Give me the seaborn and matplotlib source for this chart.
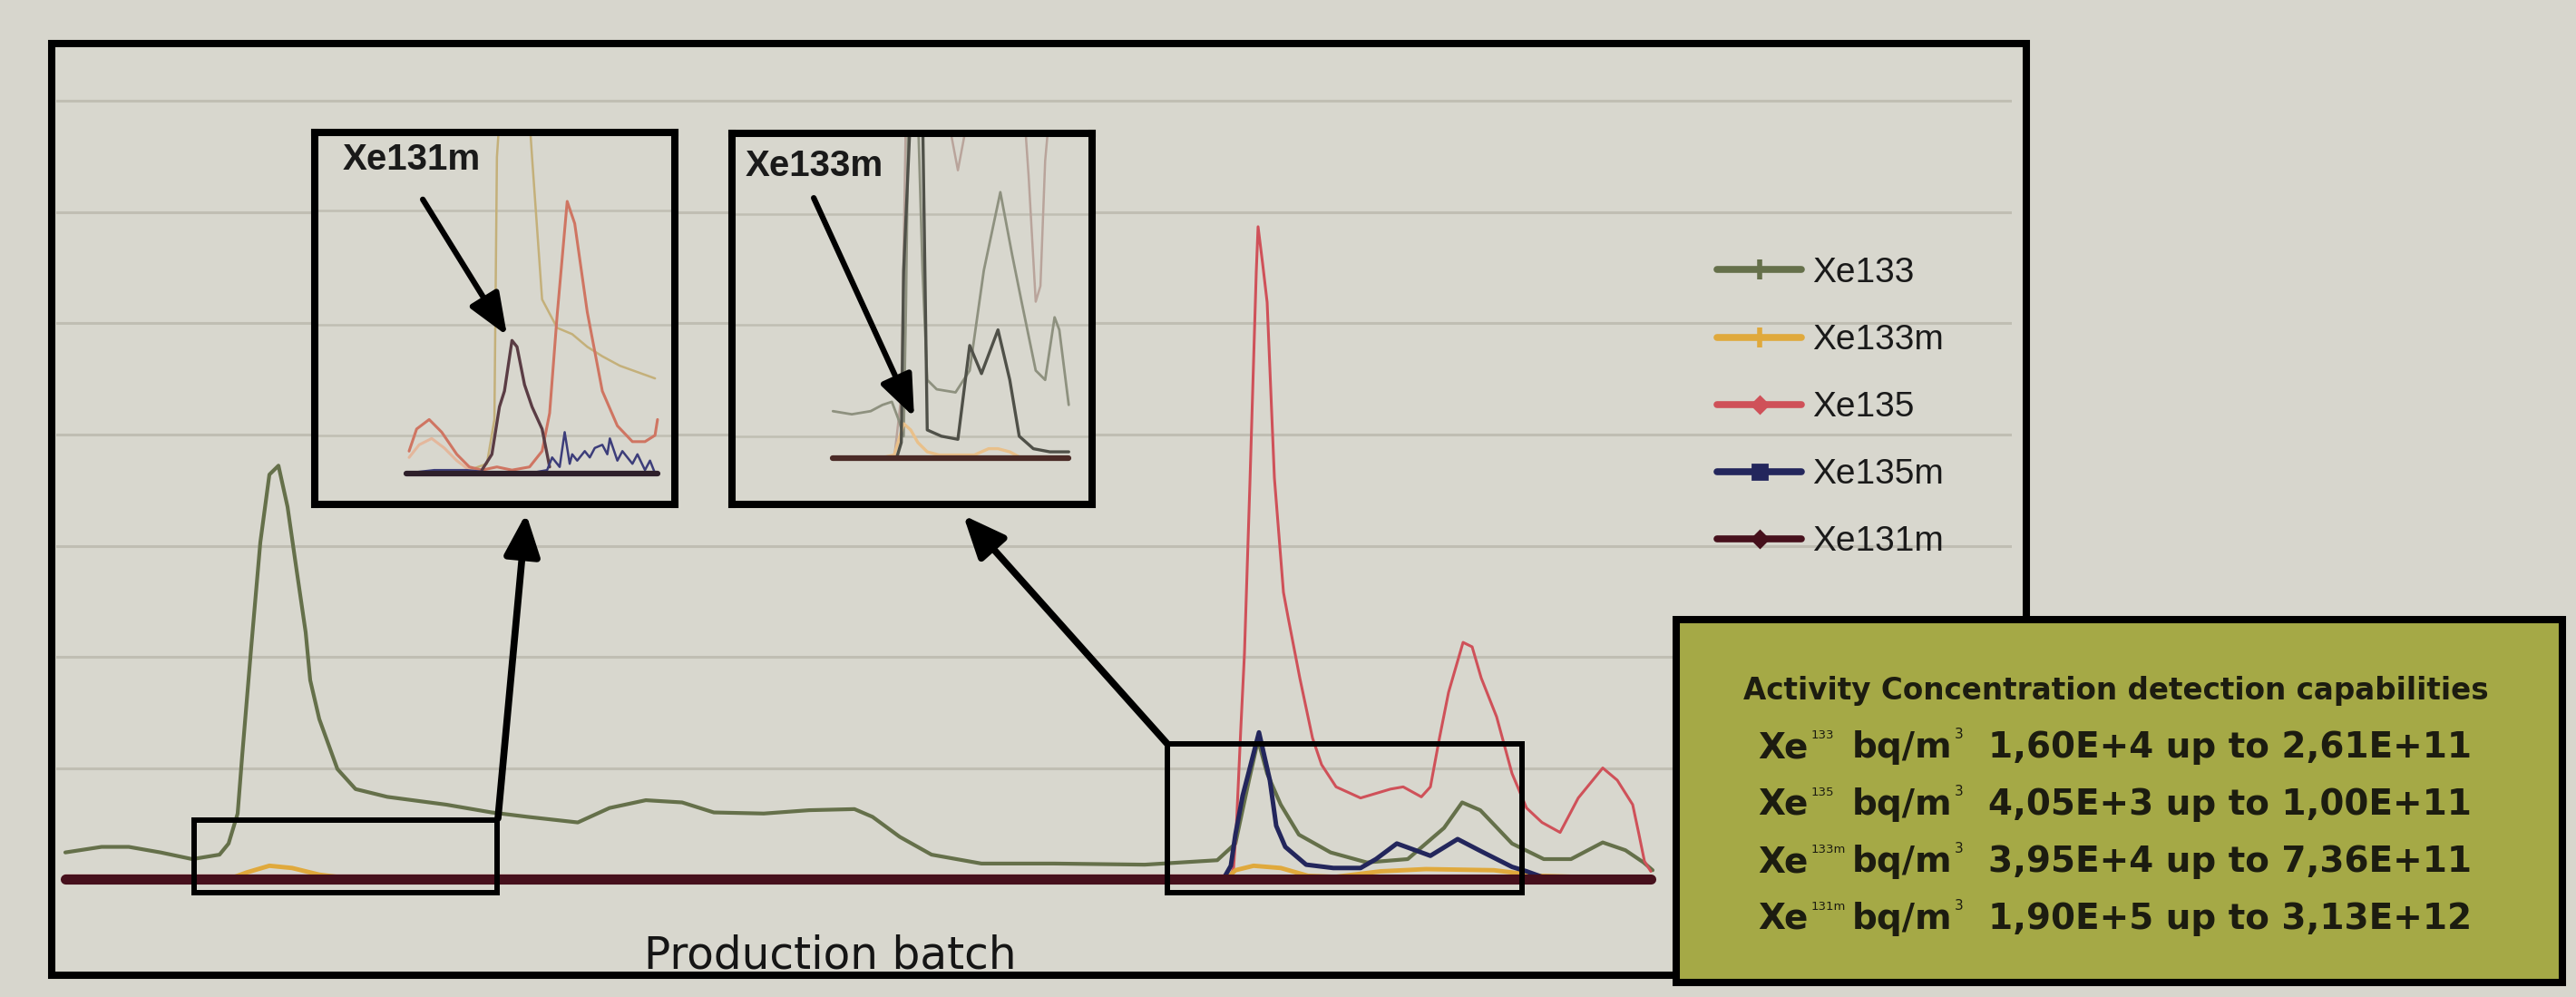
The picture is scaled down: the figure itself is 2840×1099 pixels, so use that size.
import matplotlib
matplotlib.use("Agg")
import matplotlib.pyplot as plt
from matplotlib.patches import Rectangle, FancyArrowPatch
from matplotlib.lines import Line2D
import seaborn as sns

# main chart: production batch position vs. activity (in gridline units)
xe133_batch = [0, 8, 14, 21, 28, 34, 36, 38, 39, 41, 43, 45, 47, 49, 51, 53, 54, 56, 60, 64,
               71, 84, 94, 102, 113, 120, 128, 136, 143, 154, 164, 174, 178, 184, 191, 202,
               218, 238, 254, 258, 261, 263, 265, 268, 272, 279, 287, 296, 304, 308, 312,
               319, 326, 332, 339, 344, 348, 350]
xe133 = [0.24, 0.29, 0.29, 0.24, 0.18, 0.22, 0.32, 0.59, 1.11, 2.09, 3.03, 3.64, 3.72, 3.35,
         2.78, 2.22, 1.79, 1.44, 0.99, 0.81, 0.74, 0.67, 0.60, 0.56, 0.51, 0.64, 0.71, 0.69,
         0.60, 0.59, 0.62, 0.63, 0.56, 0.38, 0.22, 0.14, 0.14, 0.13, 0.17, 0.32, 0.89, 1.25,
         0.95, 0.67, 0.40, 0.24, 0.15, 0.18, 0.46, 0.69, 0.62, 0.32, 0.18, 0.18, 0.33, 0.26,
         0.15, 0.08]

xe133m_batch = [0, 36, 40, 45, 50, 56, 62, 256, 258, 262, 268, 274, 280, 290, 300, 315, 325, 349.6]
xe133m = [0.0, 0.0, 0.06, 0.12, 0.10, 0.04, 0.01, 0.0, 0.08, 0.12, 0.10, 0.03, 0.02, 0.07,
          0.09, 0.08, 0.03, 0.0]

xe135_batch = [0, 257, 257.6, 258.2, 259.2, 260, 261.2, 262.6, 263, 264, 265, 266.6, 268.6,
               269.6, 272.2, 275, 277, 280.2, 285.6, 292.2, 295, 299, 301, 303, 305, 308.2,
               310.2, 312.2, 315.6, 319, 322.2, 325.6, 329.6, 333.6, 339, 342.2, 345.6, 347,
               348.2, 349.6]
xe135 = [0.03, 0.03, 0.10, 0.46, 1.36, 2.03, 3.56, 5.46, 5.87, 5.54, 5.19, 3.61, 2.58, 2.36,
         1.81, 1.27, 1.03, 0.83, 0.73, 0.81, 0.83, 0.74, 0.83, 1.27, 1.68, 2.13, 2.09, 1.81,
         1.46, 0.95, 0.64, 0.51, 0.42, 0.73, 1.00, 0.89, 0.67, 0.40, 0.16, 0.07]

xe135m_batch = [0, 255.6, 257, 258, 259.6, 261, 263.2, 265.6, 267, 269, 273.6, 279.6, 285.6,
                289, 293.6, 299, 301, 307, 312.2, 319, 322.2, 325.6, 349.6]
xe135m = [0.0, 0.02, 0.12, 0.40, 0.75, 0.97, 1.32, 0.89, 0.48, 0.29, 0.13, 0.10, 0.10, 0.18,
          0.32, 0.24, 0.21, 0.36, 0.25, 0.11, 0.07, 0.02, 0.0]

xe131m_batch = [0, 349.6]
xe131m = [0.0, 0.0]

legend_labels = ['Xe133', 'Xe133m', 'Xe135', 'Xe135m', 'Xe131m']

# zoomed views (relative units, 0-100)
ins1_xe135_x = [1, 4, 9, 14, 20, 25, 30, 36, 42, 49, 54, 57, 60, 64, 67, 72, 78, 84, 90, 95, 99, 100]
ins1_xe135 = [7, 14, 17, 13, 6, 2, 1, 2, 1, 2, 7, 19, 50, 86, 79, 51, 26, 15, 10, 10, 12, 17]
ins1_xe133m_x = [1, 5, 10, 15, 20, 25, 30]
ins1_xe133m = [5, 9, 11, 8, 4, 1, 0]
ins1_xe133_x = [25, 32, 35, 36, 37, 49, 50, 54, 60, 66, 72, 78, 85, 92, 99]
ins1_xe133 = [1, 3, 17, 100, 112, 112, 100, 55, 46, 44, 40, 37, 34, 32, 30]
ins1_xe131m_x = [30, 34, 37, 39, 42, 44, 47, 50, 54, 57]
ins1_xe131m = [1, 6, 21, 26, 42, 40, 28, 21, 14, 2]
ins1_xe135m_x = [0, 11, 24, 36, 49, 56, 58, 61, 63, 65, 66, 68, 71, 73, 75, 78, 80, 81, 84,
                 86, 90, 92, 95, 97, 99]
ins1_xe135m = [0, 1, 1, 0, 0, 1, 5, 2, 13, 3, 6, 4, 7, 5, 8, 9, 6, 11, 4, 7, 3, 6, 1, 4, 0]

ins2_xe133_x = [0, 8, 16, 21, 25, 28, 30, 31, 32, 36, 38, 40, 44, 52, 58, 64, 71, 76, 80, 86,
                90, 94, 96, 100]
ins2_xe133 = [15, 14, 15, 17, 18, 12, 7, 50, 112, 112, 60, 25, 22, 21, 28, 60, 85, 65, 50,
              28, 25, 45, 41, 17]
ins2_xe135m_x = [0, 27, 29, 30, 33, 38, 40, 46, 53, 58, 63, 66, 70, 75, 79, 85, 92, 100]
ins2_xe135m = [0, 0, 5, 60, 112, 112, 9, 7, 6, 36, 27, 33, 41, 25, 7, 3, 2, 2]
ins2_xe135_x = [26, 29, 31, 48, 51, 53, 55, 58, 81, 83, 86, 88, 90, 92, 100]
ins2_xe135 = [0, 20, 112, 112, 100, 92, 100, 112, 112, 90, 50, 55, 95, 112, 112]
ins2_xe133m_x = [0, 20, 26, 28, 30, 33, 36, 40, 45, 60, 66, 70, 75, 80, 100]
ins2_xe133m = [0, 0, 1, 6, 11, 9, 5, 2, 1, 1, 3, 3, 2, 0, 0]
ins_base_x = [0, 100]
ins_base = [0, 0]

box_title = 'Activity Concentration detection capabilities'
box_isotopes = ['133', '135', '133m', '131m']
box_low = ['1,60E+4', '4,05E+3', '3,95E+4', '1,90E+5']
box_high = ['2,61E+11', '1,00E+11', '7,36E+11', '3,13E+12']

W, H, DPI = 2840, 1099, 100
SLIDE = '#d7d6cd'
CHART = '#d8d7ce'
GRID = '#c0beb3'
GREEN = '#a5a946'
colors = {'Xe133': '#65704a', 'Xe133m': '#e0a93c', 'Xe135': '#cf5159',
          'Xe135m': '#23265c', 'Xe131m': '#46101c'}
NARROW = ['Liberation Sans Narrow', 'Liberation Sans', 'DejaVu Sans']
WIDE = ['DejaVu Sans']


def frac(x, y):
    return x / W, 1 - y / H


def rect(x0, y0, x1, y1):
    return [x0 / W, 1 - y1 / H, (x1 - x0) / W, (y1 - y0) / H]


sns.set_theme(style="white")
plt.rcParams['font.family'] = ['Liberation Sans', 'DejaVu Sans']

fig = plt.figure(figsize=(W / DPI, H / DPI), dpi=DPI, facecolor=SLIDE)

# black frame of the slide chart
fig.add_artist(Rectangle(frac(57, 1075), 2177 / W, 1027 / H, transform=fig.transFigure,
                         facecolor=CHART, edgecolor='black', lw=5.8, zorder=-10))

# ---- main chart ----
ax = fig.add_axes(rect(62, 60, 2218, 990))
ax.set_facecolor('none')
main = [(xe133_batch, xe133, 'Xe133', 3.0),
        (xe135_batch, xe135, 'Xe135', 2.2),
        (xe133m_batch, xe133m, 'Xe133m', 3.5),
        (xe135m_batch, xe135m, 'Xe135m', 3.6),
        (xe131m_batch, xe131m, 'Xe131m', 8.0)]
for xs, ys, name, lw in main:
    sns.lineplot(x=xs, y=ys, ax=ax, color=colors[name], linewidth=lw,
                 estimator=None, legend=False)
ax.set_xlim(-2, 429.2)
ax.set_ylim(-0.171, 7.42)
ax.set_yticks(range(1, 8))
ax.set_xticks([])
ax.tick_params(left=False, bottom=False, labelleft=False, labelbottom=False)
ax.grid(axis='y', color=GRID, lw=2.2)
ax.set_xlabel('')
ax.set_ylabel('')
sns.despine(ax=ax, left=True, bottom=True)

fig.text(*frac(915, 1068), 'Production batch', ha='center', va='baseline',
         fontsize=35, family=WIDE, color='#151515')

# legend
markers = {'Xe133': ('+', 16, 4), 'Xe133m': ('+', 16, 4), 'Xe135': ('D', 9, 2),
           'Xe135m': ('s', 11, 2), 'Xe131m': ('D', 9, 2)}
handles = [Line2D([], [], color=colors[n], lw=5.5, marker=markers[n][0],
                  ms=markers[n][1], mew=markers[n][2]) for n in legend_labels]
fig.legend(handles, legend_labels, loc='upper left', bbox_to_anchor=frac(1893, 283),
           frameon=False, prop={'family': NARROW, 'size': 28}, handlelength=2.4,
           handletextpad=0.3, labelspacing=0.98, borderpad=0, borderaxespad=0,
           labelcolor='#1a1a1a')

# marked regions on the main chart
for x0, y0, x1, y1 in [(214, 904, 548, 984), (1287, 820, 1678, 984)]:
    fig.add_artist(Rectangle(frac(x0, y1), (x1 - x0) / W, (y1 - y0) / H,
                             transform=fig.transFigure, fill=False,
                             edgecolor='black', lw=4.3, zorder=2))


def inset(px, xlim, ylim, grid_y):
    a = fig.add_axes(rect(*px))
    a.set_zorder(3)
    a.set_facecolor(CHART)
    for sp in a.spines.values():
        sp.set_linewidth(5.8)
        sp.set_color('black')
    a.set_xlim(*xlim)
    a.set_ylim(*ylim)
    a.set_xticks([])
    a.set_yticks(grid_y)
    a.tick_params(left=False, bottom=False, labelleft=False, labelbottom=False)
    a.grid(axis='y', color=GRID, lw=1.8)
    return a


# ---- zoom 1 : Xe131m ----
ax1 = inset((347, 146, 744, 556), (-36.6, 106.9), (-9.85, 107.8), [12, 47, 83])
for xs, ys, c, lw in [(ins1_xe133_x, ins1_xe133, '#c4b07a', 1.8),
                      (ins1_xe133m_x, ins1_xe133m, '#e4b79c', 2.2),
                      (ins1_xe135_x, ins1_xe135, '#cf7562', 2.2),
                      (ins1_xe131m_x, ins1_xe131m, '#5a3c44', 2.4),
                      (ins1_xe135m_x, ins1_xe135m, '#3c3d7a', 1.8),
                      (ins_base_x, ins_base, '#2e1f2a', 4.5)]:
    sns.lineplot(x=xs, y=ys, ax=ax1, color=c, linewidth=lw, estimator=None, legend=False)
ax1.text(0.076, 0.927, 'Xe131m', transform=ax1.transAxes, ha='left', va='center',
         fontsize=29, fontweight='bold', family=NARROW, color='#1a1a1a')
ax1.annotate('', xy=(0.534, 0.454), xytext=(0.30, 0.82), xycoords='axes fraction',
             arrowprops=dict(arrowstyle='-|>,head_length=0.7,head_width=0.28',
                             mutation_scale=40, lw=4.5, color='black',
                             shrinkA=0, shrinkB=0))

# ---- zoom 2 : Xe133m ----
ax2 = inset((807, 147, 1204, 556), (-42.8, 109.9), (-14.8, 103.8), [7, 42.5, 78])
for xs, ys, c, lw in [(ins2_xe135_x, ins2_xe135, '#b9a49b', 1.8),
                      (ins2_xe133_x, ins2_xe133, '#8e917f', 2.0),
                      (ins2_xe133m_x, ins2_xe133m, '#e9c08a', 2.4),
                      (ins2_xe135m_x, ins2_xe135m, '#4f5048', 2.4),
                      (ins_base_x, ins_base, '#4a2a26', 4.5)]:
    sns.lineplot(x=xs, y=ys, ax=ax2, color=c, linewidth=lw, estimator=None, legend=False)
ax2.text(0.038, 0.912, 'Xe133m', transform=ax2.transAxes, ha='left', va='center',
         fontsize=29, fontweight='bold', family=NARROW, color='#1a1a1a')
ax2.annotate('', xy=(0.506, 0.235), xytext=(0.227, 0.826), xycoords='axes fraction',
             arrowprops=dict(arrowstyle='-|>,head_length=0.7,head_width=0.28',
                             mutation_scale=40, lw=4.5, color='black',
                             shrinkA=0, shrinkB=0))

# arrows from marked regions to the zoomed views
for start, end in [((549, 902), (580, 566)), ((1287, 820), (1062, 568))]:
    fig.add_artist(FancyArrowPatch(frac(*start), frac(*end), transform=fig.transFigure,
                                   arrowstyle='-|>,head_length=0.7,head_width=0.3',
                                   mutation_scale=40, lw=5.5, color='black',
                                   shrinkA=0, shrinkB=0, zorder=5))

# ---- detection capability box ----
fig.add_artist(Rectangle(frac(1848, 1083), 977 / W, 400 / H, transform=fig.transFigure,
                         facecolor=GREEN, edgecolor='black', lw=5.8, zorder=6))
fig.text(*frac(2333, 761), box_title, ha='center', va='center', fontsize=23.5,
         fontweight='bold', family=WIDE, color='#1c1c10', zorder=7)

fig.canvas.draw()
renderer = fig.canvas.get_renderer()
for i, (iso, lo, hi) in enumerate(zip(box_isotopes, box_low, box_high)):
    yb = 835 + i * 63
    kw = dict(family=WIDE, color='#1c1c10', zorder=7, va='baseline', ha='left')
    fig.text(*frac(1938, yb), 'Xe', fontsize=28, fontweight='bold', **kw)
    fig.text(*frac(1997, yb - 21), iso, fontsize=9.5, **kw)
    t = fig.text(*frac(2042, yb), 'bq/m', fontsize=28, fontweight='bold', **kw)
    x_end = t.get_window_extent(renderer).x1
    fig.text(x_end / W + 2 / W, 1 - (yb - 21) / H, '3', fontsize=11, **kw)
    fig.text(*frac(2192, yb), f'{lo} up to {hi}', fontsize=28, fontweight='bold', **kw)

fig.savefig('out.png', dpi=DPI, facecolor=SLIDE)
